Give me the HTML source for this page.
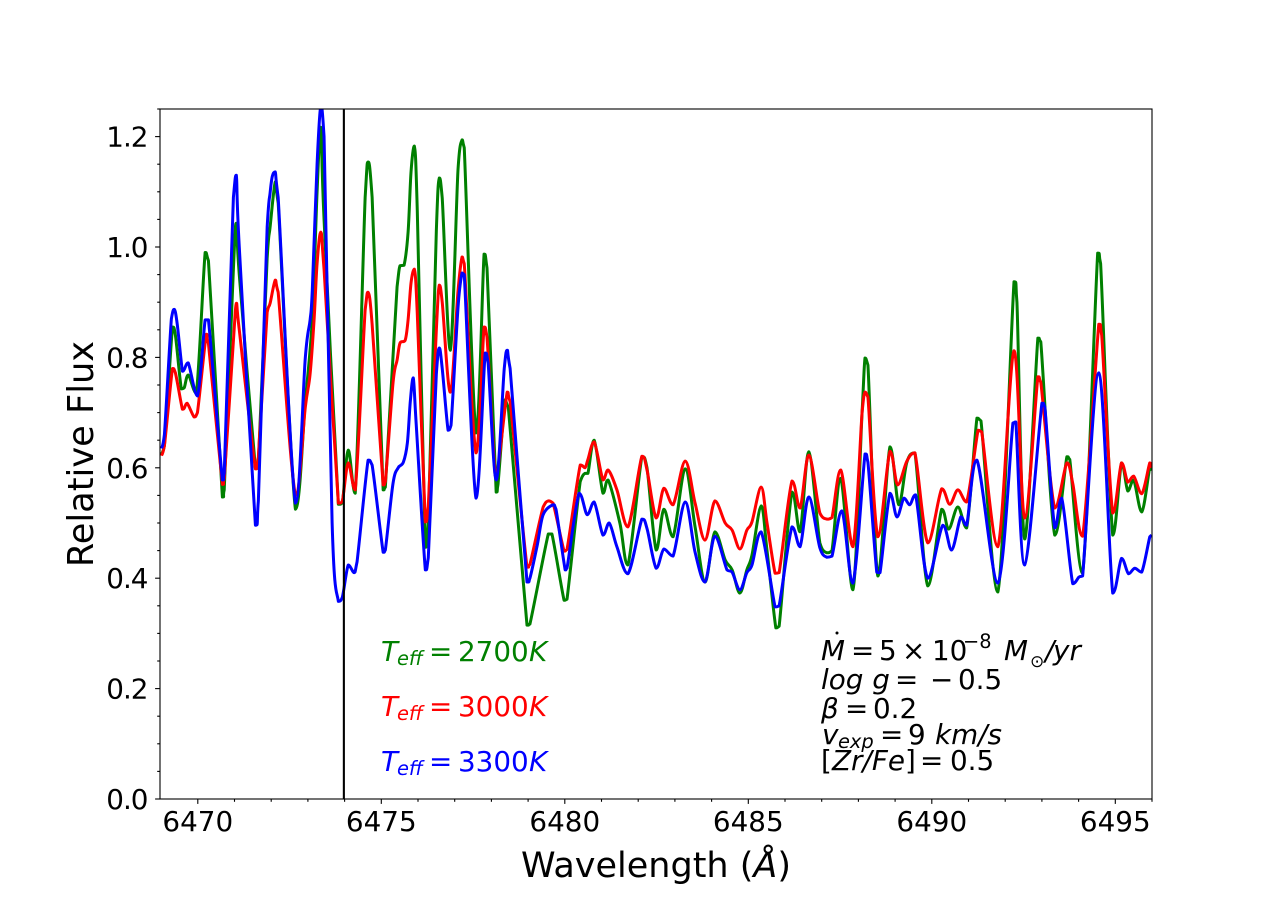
<!DOCTYPE html>
<html lang="en">
<head>
<meta charset="utf-8">
<title>Relative Flux vs Wavelength</title>
<style>
html,body{margin:0;padding:0;background:#fff;}
svg{display:block;}
text{font-family:"DejaVu Sans","Liberation Sans",sans-serif;}
.it{font-style:italic;}
</style>
</head>
<body>
<svg id="chart" xmlns="http://www.w3.org/2000/svg" width="1280" height="898" viewBox="0 0 1280 898">
  <rect x="0" y="0" width="1280" height="898" fill="#fff"/>
  <defs><clipPath id="plot-clip"><rect x="160" y="109" width="992" height="690"/></clipPath></defs>
  <g id="series-layer" clip-path="url(#plot-clip)"></g>
  <g id="marker-layer" clip-path="url(#plot-clip)"></g>
  <rect x="160" y="109" width="992" height="690" fill="none" stroke="#000" stroke-width="1.1"/>
  <g id="tick-layer"></g>

  <text x="656" y="877" font-size="35" text-anchor="middle" fill="#000">Wavelength (<tspan class="it">Å</tspan>)</text>
  <text transform="translate(93,454) rotate(-90)" font-size="35.2" text-anchor="middle" fill="#000">Relative Flux</text>

  <g fill="#008000" font-size="27.8">
    <text class="it" x="381" y="661">T</text><text class="it" x="397" y="665" font-size="19.4">eff</text><text x="429" y="661">=</text><text x="458" y="661">2700</text><text class="it" x="529" y="661">K</text>
  </g>
  <g fill="#ff0000" font-size="27.8">
    <text class="it" x="381" y="716">T</text><text class="it" x="397" y="720" font-size="19.4">eff</text><text x="429" y="716">=</text><text x="458" y="716">3000</text><text class="it" x="529" y="716">K</text>
  </g>
  <g fill="#0000ff" font-size="27.8">
    <text class="it" x="381" y="771">T</text><text class="it" x="397" y="775" font-size="19.4">eff</text><text x="429" y="771">=</text><text x="458" y="771">3300</text><text class="it" x="529" y="771">K</text>
  </g>

  <g fill="#000" font-size="27.8">
    <g>
      <text class="it" x="821" y="660">M</text><circle cx="837" cy="633" r="1.5" fill="#000"/><text x="851" y="660">=</text><text x="879" y="660">5</text><text x="902" y="660">×</text><text x="932" y="660">10</text><text x="963" y="648" font-size="19.4">−8</text><text class="it" x="1004" y="660">M</text><text x="1030" y="667" font-size="17">⊙</text><text class="it" x="1045" y="660">/</text><text class="it" x="1053" y="660">yr</text>
    </g>
    <g>
      <text class="it" x="821" y="689">log g</text><text x="895" y="689">=</text><text x="930" y="689">−</text><text x="958" y="689">0.5</text>
    </g>
    <g>
      <text class="it" x="821" y="718">β</text><text x="845" y="718">=</text><text x="873" y="718">0.2</text>
    </g>
    <g>
      <text class="it" x="822" y="744">v</text><text class="it" x="838" y="748" font-size="19.4">exp</text><text x="880" y="744">=</text><text x="908" y="744">9</text><text class="it" x="935" y="744">km/s</text>
    </g>
    <g>
      <text x="821" y="770">[</text><text class="it" x="832" y="770">Zr/Fe</text><text x="905" y="770">]</text><text x="920" y="770">=</text><text x="950" y="770">0.5</text>
    </g>
  </g>
</svg>

<script>
const wavelengthGreen = [6469.01,6469.09,6469.31,6469.39,6469.55,6469.63,6469.74,6469.96,6470.20,6470.29,6470.67,6470.72,6470.97,6471.05,6471.13,6471.57,6471.65,6471.89,6471.97,6472.11,6472.19,6472.66,6472.93,6473.12,6473.25,6473.35,6473.44,6473.83,6473.94,6474.10,6474.29,6474.56,6474.64,6474.75,6475.05,6475.11,6475.43,6475.51,6475.62,6475.73,6475.81,6475.90,6475.98,6476.20,6476.28,6476.50,6476.58,6476.66,6476.88,6477.09,6477.20,6477.26,6477.58,6477.80,6477.88,6478.13,6478.18,6478.37,6478.46,6478.97,6479.05,6479.55,6479.65,6479.98,6480.06,6480.42,6480.55,6480.63,6480.80,6481.04,6481.18,6481.50,6481.72,6482.10,6482.24,6482.49,6482.70,6482.95,6483.28,6483.55,6483.82,6484.09,6484.37,6484.56,6484.77,6484.96,6485.10,6485.35,6485.51,6485.75,6485.84,6486.19,6486.41,6486.65,6486.95,6487.14,6487.28,6487.52,6487.85,6488.10,6488.18,6488.26,6488.53,6488.86,6489.10,6489.32,6489.54,6489.89,6490.27,6490.46,6490.71,6490.95,6491.23,6491.34,6491.80,6492.24,6492.32,6492.53,6492.89,6492.97,6493.35,6493.68,6493.76,6494.11,6494.52,6494.60,6494.93,6495.17,6495.34,6495.50,6495.72,6495.94,6495.99];
const fluxGreen = [.625,.64,.855,.84,.743,.745,.768,.735,.99,.975,.547,.56,.96,1.043,.95,.60,.61,.98,1.036,1.118,1.08,.525,.72,.87,1.1,1.217,1.05,.534,.537,.632,.554,1.09,1.154,1.09,.56,.565,.928,.966,.967,1.027,1.136,1.183,1.067,.456,.50,1.03,1.125,1.089,.813,1.14,1.194,1.18,.663,.987,.962,.556,.57,.723,.71,.315,.317,.48,.48,.36,.362,.575,.59,.59,.65,.554,.578,.50,.424,.62,.60,.451,.525,.475,.598,.493,.393,.484,.433,.415,.373,.415,.442,.531,.45,.31,.313,.556,.484,.629,.464,.446,.45,.581,.379,.70,.799,.786,.404,.638,.533,.61,.627,.386,.525,.489,.529,.491,.69,.685,.375,.937,.90,.471,.835,.828,.478,.62,.615,.409,.989,.97,.478,.609,.558,.578,.52,.601,.595];

const wavelengthRed = [6469.01,6469.09,6469.31,6469.39,6469.58,6469.63,6469.71,6469.90,6469.99,6470.23,6470.29,6470.67,6470.72,6470.97,6471.05,6471.13,6471.57,6471.65,6471.89,6471.97,6472.11,6472.19,6472.66,6472.93,6473.06,6473.17,6473.25,6473.35,6473.44,6473.83,6473.94,6474.10,6474.29,6474.56,6474.64,6474.75,6475.05,6475.11,6475.32,6475.43,6475.51,6475.65,6475.73,6475.81,6475.90,6475.98,6476.20,6476.28,6476.50,6476.58,6476.66,6476.88,6477.09,6477.20,6477.26,6477.58,6477.80,6477.88,6478.10,6478.18,6478.43,6478.51,6478.97,6479.05,6479.41,6479.55,6479.68,6479.98,6480.06,6480.42,6480.55,6480.63,6480.80,6481.04,6481.18,6481.42,6481.72,6482.10,6482.24,6482.49,6482.70,6482.95,6483.28,6483.55,6483.82,6484.09,6484.37,6484.56,6484.77,6484.96,6485.10,6485.35,6485.51,6485.73,6485.84,6486.19,6486.41,6486.65,6486.95,6487.14,6487.28,6487.52,6487.85,6488.10,6488.18,6488.26,6488.53,6488.86,6489.07,6489.32,6489.54,6489.89,6490.27,6490.49,6490.71,6490.95,6491.26,6491.36,6491.80,6492.24,6492.53,6492.89,6492.97,6493.35,6493.68,6493.84,6494.11,6494.55,6494.63,6494.93,6495.17,6495.34,6495.50,6495.72,6495.94,6495.99];
const fluxRed = [.622,.64,.78,.772,.706,.708,.717,.692,.70,.842,.825,.57,.58,.83,.898,.85,.598,.62,.882,.898,.94,.918,.55,.71,.77,.87,.97,1.027,.96,.536,.54,.609,.56,.886,.918,.86,.569,.575,.754,.795,.826,.831,.868,.935,.96,.88,.502,.53,.85,.931,.90,.737,.92,.982,.97,.627,.855,.837,.587,.60,.737,.72,.42,.425,.529,.54,.536,.449,.452,.605,.60,.615,.647,.578,.596,.56,.493,.621,.596,.509,.563,.533,.612,.536,.469,.54,.50,.487,.453,.487,.502,.565,.50,.409,.41,.576,.527,.623,.518,.507,.51,.596,.457,.70,.737,.728,.475,.63,.569,.612,.627,.464,.562,.534,.56,.538,.668,.665,.457,.812,.509,.765,.755,.527,.609,.572,.476,.86,.84,.518,.609,.574,.585,.553,.609,.60];

const wavelengthBlue = [6469.01,6469.09,6469.28,6469.36,6469.44,6469.58,6469.63,6469.74,6469.99,6470.20,6470.29,6470.67,6470.72,6470.97,6471.05,6471.13,6471.57,6471.65,6471.89,6471.97,6472.03,6472.11,6472.19,6472.66,6472.93,6473.06,6473.12,6473.25,6473.35,6473.44,6473.66,6473.83,6473.94,6474.10,6474.26,6474.34,6474.64,6474.75,6475.05,6475.11,6475.32,6475.46,6475.60,6475.71,6475.79,6475.87,6475.95,6476.20,6476.28,6476.50,6476.58,6476.66,6476.82,6476.90,6477.09,6477.20,6477.26,6477.58,6477.83,6477.91,6478.13,6478.35,6478.43,6478.51,6478.97,6479.05,6479.25,6479.41,6479.68,6479.76,6480.01,6480.06,6480.39,6480.61,6480.80,6481.04,6481.21,6481.42,6481.72,6482.10,6482.24,6482.49,6482.70,6482.95,6483.28,6483.55,6483.82,6484.09,6484.42,6484.56,6484.77,6484.96,6485.10,6485.35,6485.73,6485.84,6486.19,6486.41,6486.65,6486.95,6487.14,6487.28,6487.55,6487.85,6488.18,6488.26,6488.50,6488.59,6488.86,6489.05,6489.24,6489.40,6489.56,6489.89,6490.30,6490.54,6490.79,6490.95,6491.23,6491.80,6492.21,6492.29,6492.53,6493.00,6493.08,6493.35,6493.54,6493.84,6494.01,6494.11,6494.55,6494.93,6495.17,6495.36,6495.53,6495.72,6495.94,6495.99];
const fluxBlue = [.635,.66,.87,.887,.86,.775,.778,.79,.73,.868,.868,.578,.59,1.09,1.13,1.0,.496,.54,1.036,1.098,1.128,1.136,1.09,.536,.80,.868,.922,1.15,1.255,1.2,.5,.358,.366,.424,.41,.43,.614,.605,.447,.451,.572,.60,.61,.645,.72,.763,.68,.415,.437,.77,.817,.78,.668,.677,.89,.953,.95,.545,.808,.79,.578,.78,.813,.78,.393,.40,.46,.515,.533,.525,.415,.418,.554,.515,.538,.478,.50,.457,.408,.507,.49,.418,.453,.44,.538,.447,.393,.476,.415,.411,.379,.41,.424,.484,.348,.35,.493,.457,.547,.455,.438,.44,.522,.391,.625,.61,.411,.41,.554,.511,.545,.533,.551,.40,.496,.451,.511,.496,.614,.391,.681,.683,.424,.717,.71,.491,.545,.39,.402,.404,.772,.373,.436,.408,.418,.411,.475,.478];

const xMajorTicks = [6470,6475,6480,6485,6490,6495];
const xMinorTicks = [6471,6472,6473,6474,6476,6477,6478,6479,6481,6482,6483,6484,6486,6487,6488,6489,6491,6492,6493,6494,6496];
const yMajorTicks = [0.0,0.2,0.4,0.6,0.8,1.0,1.2];
const yMinorTicks = [0.05,0.10,0.15,0.25,0.30,0.35,0.45,0.50,0.55,0.65,0.70,0.75,0.85,0.90,0.95,1.05,1.10,1.15,1.25];
const markerWavelength = 6473.98;

const X_MIN = 6468.97, X_MAX = 6496.0, Y_MIN = 0, Y_MAX = 1.25;
const PLOT = {left:160, right:1152, top:109, bottom:799};
const xScale = v => PLOT.left + (v - X_MIN) / (X_MAX - X_MIN) * (PLOT.right - PLOT.left);
const yScale = v => PLOT.bottom - (v - Y_MIN) / (Y_MAX - Y_MIN) * (PLOT.bottom - PLOT.top);
const NS = 'http://www.w3.org/2000/svg';

function clampBetween(v, a, b) {
  return Math.max(Math.min(a, b), Math.min(Math.max(a, b), v));
}
function buildPath(xs, ys) {
  const p = xs.map((x, i) => [xScale(x), yScale(ys[i])]);
  let d = 'M' + p[0][0].toFixed(2) + ' ' + p[0][1].toFixed(2);
  for (let i = 0; i < p.length - 1; i++) {
    const p0 = p[Math.max(i - 1, 0)], p1 = p[i], p2 = p[i + 1], p3 = p[Math.min(i + 2, p.length - 1)];
    const c1x = p1[0] + (p2[0] - p0[0]) / 6;
    const c2x = p2[0] - (p3[0] - p1[0]) / 6;
    const c1y = clampBetween(p1[1] + (p2[1] - p0[1]) / 6, p1[1], p2[1]);
    const c2y = clampBetween(p2[1] - (p3[1] - p1[1]) / 6, p1[1], p2[1]);
    d += 'C' + c1x.toFixed(2) + ' ' + c1y.toFixed(2) + ' ' + c2x.toFixed(2) + ' ' + c2y.toFixed(2) + ' ' + p2[0].toFixed(2) + ' ' + p2[1].toFixed(2);
  }
  return d;
}
function drawSeries(xs, ys, color, name) {
  const path = document.createElementNS(NS, 'path');
  path.setAttribute('d', buildPath(xs, ys));
  path.setAttribute('fill', 'none');
  path.setAttribute('stroke', color);
  path.setAttribute('stroke-width', '3');
  path.setAttribute('stroke-linejoin', 'round');
  
  
  document.getElementById('series-layer').appendChild(path);
}
drawSeries(wavelengthGreen, fluxGreen, '#008000', 'series-teff-2700k');
drawSeries(wavelengthRed, fluxRed, '#ff0000', 'series-teff-3000k');
drawSeries(wavelengthBlue, fluxBlue, '#0000ff', 'series-teff-3300k');

const marker = document.createElementNS(NS, 'line');
marker.setAttribute('x1', xScale(markerWavelength));
marker.setAttribute('x2', xScale(markerWavelength));
marker.setAttribute('y1', PLOT.top);
marker.setAttribute('y2', PLOT.bottom);
marker.setAttribute('stroke', '#000');
marker.setAttribute('stroke-width', '2.1');


document.getElementById('marker-layer').appendChild(marker);

const tickLayer = document.getElementById('tick-layer');
function addTick(x1, y1, x2, y2, name) {
  const line = document.createElementNS(NS, 'line');
  line.setAttribute('x1', x1);
  line.setAttribute('y1', y1);
  line.setAttribute('x2', x2);
  line.setAttribute('y2', y2);
  line.setAttribute('stroke', '#000');
  line.setAttribute('stroke-width', '1.1');
  
  
  tickLayer.appendChild(line);
}
function addLabel(x, y, str, anchor, name, spacing) {
  const t = document.createElementNS(NS, 'text');
  t.setAttribute('x', x);
  t.setAttribute('y', y);
  t.setAttribute('font-size', '27.8');
  t.setAttribute('text-anchor', anchor);
  t.setAttribute('letter-spacing', spacing);
  t.setAttribute('fill', '#000');
  
  
  t.textContent = str;
  tickLayer.appendChild(t);
}
xMajorTicks.forEach(v => {
  const x = xScale(v);
  addTick(x, PLOT.bottom, x, PLOT.bottom + 4.9, 'x-major-tick');
  addLabel(x, 831, String(v), 'middle', 'x-tick-label', '0');
});
xMinorTicks.forEach(v => {
  const x = xScale(v);
  if (x <= PLOT.right) addTick(x, PLOT.bottom, x, PLOT.bottom + 2.8, 'x-minor-tick');
});
yMajorTicks.forEach(v => {
  const y = yScale(v);
  addTick(PLOT.left, y, PLOT.left - 4.9, y, 'y-major-tick');
  addLabel(147.5, y + 10, v.toFixed(1), 'end', 'y-tick-label', '-1');
});
yMinorTicks.forEach(v => {
  const y = yScale(v);
  addTick(PLOT.left, y, PLOT.left - 2.8, y, 'y-minor-tick');
});
</script>
</body>
</html>
